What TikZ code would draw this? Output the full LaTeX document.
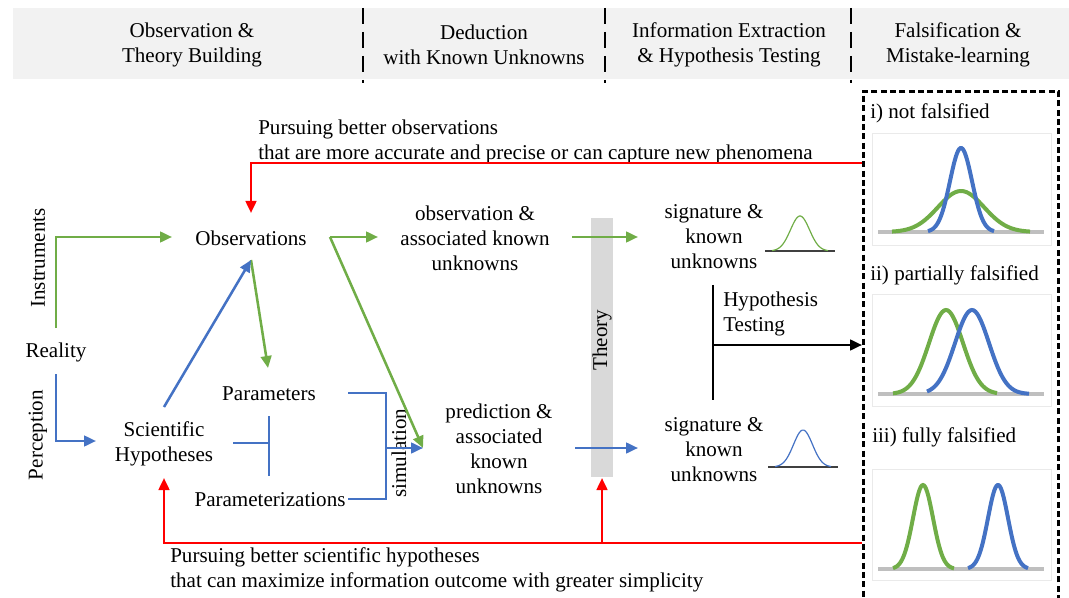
\documentclass[tikz,border=0pt]{standalone}
\usepackage{fontspec}
\setmainfont{Liberation Serif}
\usetikzlibrary{arrows.meta}
\definecolor{cgreen}{HTML}{70AD47}
\definecolor{cblue}{HTML}{4472C4}
\definecolor{cred}{HTML}{FF0000}
\definecolor{hdr}{HTML}{F2F2F2}
\definecolor{barc}{HTML}{D9D9D9}
\definecolor{basec}{HTML}{BFBFBF}
\definecolor{panelc}{HTML}{EAEAEA}
\begin{document}
\begin{tikzpicture}[x=0.75pt,y=-0.75pt,
  txt/.style={inner sep=0pt, align=center, font=\fontsize{15.8}{18.75}\selectfont},
  ltxt/.style={txt, align=left, anchor=west},
  conn/.style={line width=1.9pt},
  arr/.style={conn,-{Triangle[length=9pt,width=8pt]}},
  sep/.style={line width=2.2pt, dash pattern=on 12pt off 6pt},
  gcurve/.style={line width=3pt, smooth, samples=60},
  smallcurve/.style={line width=0.9pt, smooth, samples=40},
  panel/.style={draw=panelc, line width=0.6pt},
  gr/.style={draw=cgreen}, bl/.style={draw=cblue}, rd/.style={draw=cred}
]
\useasboundingbox (0,0) rectangle (1069,598);

% header band
\fill[hdr] (13,8) rectangle (1069,79);
\draw[sep] (363,8) -- (363,83);
\draw[sep] (605,8) -- (605,83);
\draw[sep] (851,8) -- (851,83);
\node[txt] (h1) at (192,44.5) {Observation \&\\Theory Building};
\node[txt] (h2) at (484,44.5) {Deduction\\with Known Unknowns};
\node[txt] (h3) at (729,44.5) {Information Extraction\\\& Hypothesis Testing};
\node[txt] (h4) at (958,44.5) {Falsification \&\\Mistake-learning};

% main nodes
\node[txt] (obs) at (251,238) {Observations};
\node[txt] (real) at (56,352) {Reality};
\node[txt,rotate=90] (instr) at (38,258) {Instruments};
\node[txt,rotate=90] (perc) at (38,435) {Perception};
\node[txt] (hyp) at (164,444) {Scientific\\Hypotheses};
\node[txt] (par) at (269,394) {Parameters};
\node[txt] (parz) at (270,500) {Parameterizations};
\node[txt,rotate=90] (sim) at (399,453) {simulation};
\node[txt] (obsk) at (475,238) {observation \&\\associated known\\unknowns};
\node[txt] (pred) at (499,449) {prediction \&\\associated\\known\\unknowns};
\node[fill=barc, inner sep=0pt, minimum width=16.5pt, minimum height=194.25pt] (theory) at (602,347.5) {};
\node[txt,rotate=90] (theorytxt) at (602,340) {Theory};
\node[txt] (sig1) at (714,237) {signature \&\\known\\unknowns};
\node[txt] (sig2) at (714,450) {signature \&\\known\\unknowns};
\node[ltxt] (ht) at (723,313.5) {Hypothesis\\Testing};
\node[ltxt] (ptop) at (258,141.5) {Pursuing better observations\\that are more accurate and precise or can capture new phenomena};
\node[ltxt] (pbot) at (170,569.5) {Pursuing better scientific hypotheses\\that can maximize information outcome with greater simplicity};

% falsification box
\node[draw, line width=1.9pt, dash pattern=on 4.5pt off 2.5pt, inner sep=0pt, minimum width=146.25pt, minimum height=390pt, anchor=north west] (fbox) at (862,90) {};
\node[ltxt] (f1) at (870,113) {i) not falsified};
\node[ltxt] (f2) at (870,275) {ii) partially falsified};
\node[ltxt] (f3) at (872,437) {iii) fully falsified};

% coordinates
\coordinate (rUp) at (56,328);
\coordinate (rDn) at (56,374);
\coordinate (obsL) at (172,237);
\coordinate (hypL) at (96,441);
\coordinate (obsTop) at (251,213);
\coordinate (obsBot) at (251,260);
\coordinate (hypTop) at (164,407);
\coordinate (parTop) at (268,368);
\coordinate (hypR) at (233,443);
\coordinate (tX) at (269,443);
\coordinate (tTop) at (269,416);
\coordinate (tBot) at (269,476);
\coordinate (parR) at (348,393);
\coordinate (parzR) at (348,499);
\coordinate (brk) at (386,448);
\coordinate (predL) at (423,448);
\coordinate (obsR) at (330,237);
\coordinate (obskL) at (378,237);
\coordinate (obskR) at (572,237);
\coordinate (sig1L) at (638,237);
\coordinate (predR) at (575,448);
\coordinate (sig2L) at (638,448);
\coordinate (thBot) at (602,478);
\coordinate (redTopR) at (862,163);
\coordinate (redBotR) at (862,543);
\coordinate (redJ) at (602,543);
\coordinate (hypBot) at (164,478);
\coordinate (htTop) at (713,285);
\coordinate (htBot) at (713,400);
\coordinate (htMid) at (713,345);
\coordinate (fboxL) at (862,345);

% green connectors
\draw[arr,gr] (rUp) |- (obsL);
\draw[arr,gr] (obsBot) -- (parTop);
\draw[arr,gr] (obsR) -- (obskL);
\draw[arr,gr] (obsR) -- (predL);
\draw[arr,gr] (obskR) -- (sig1L);

% blue connectors
\draw[arr,bl] (rDn) |- (hypL);
\draw[arr,bl] (hypTop) -- (obsBot);
\draw[conn,bl] (hypR) -- (tX);
\draw[conn,bl] (tTop) -- (tBot);
\draw[conn,bl] (parR) -| (brk) |- (parzR);
\draw[arr,bl] (brk) -- (predL);
\draw[arr,bl] (predR) -- (sig2L);

% red connectors
\draw[arr,rd] (redTopR) -| (obsTop);
\draw[arr,rd] (redBotR) -| (hypBot);
\draw[arr,rd] (redJ) -- (thBot);

% hypothesis testing
\draw[conn,draw=black] (htTop) -- (htBot);
\draw[arr,draw=black] (htMid) -- (fboxL);

% small gaussians
\draw[line width=1pt, draw=black!75] (765,251) -- (835,251);
\draw[smallcurve, cgreen] plot[domain=772:828] (\x,{251-35*exp(-((\x-800)/9.5)^2/2)});
\draw[line width=1pt, draw=black!75] (768,467) -- (838,467);
\draw[smallcurve, cblue] plot[domain=775:831] (\x,{467-37*exp(-((\x-803)/9.5)^2/2)});

% panels
\draw[panel] (872,133) rectangle (1051,245);
\draw[panel] (872,294) rectangle (1051,406);
\draw[panel] (872,469) rectangle (1051,580);
\draw[line width=2.4pt, draw=basec] (878,232) -- (1044,232);
\draw[line width=2.4pt, draw=basec] (878,394) -- (1044,394);
\draw[line width=2.4pt, draw=basec] (878,569) -- (1044,569);
% panel 1
\draw[gcurve, cgreen] plot[domain=892:1030] (\x,{232-41*exp(-((\x-961)/23)^2/2)});
\draw[gcurve, cblue] plot[domain=928:994] (\x,{232-84*exp(-((\x-961)/11)^2/2)});
% panel 2
\draw[gcurve, cgreen] plot[domain=893:997] (\x,{394-84*exp(-((\x-946)/17)^2/2)});
\draw[gcurve, cblue] plot[domain=927:1029] (\x,{394-84*exp(-((\x-972)/17)^2/2)});
% panel 3
\draw[gcurve, cgreen] plot[domain=893:954] (\x,{569-84*exp(-((\x-923)/10)^2/2)});
\draw[gcurve, cblue] plot[domain=968:1028] (\x,{569-84*exp(-((\x-998)/10)^2/2)});
\end{tikzpicture}
\end{document}
